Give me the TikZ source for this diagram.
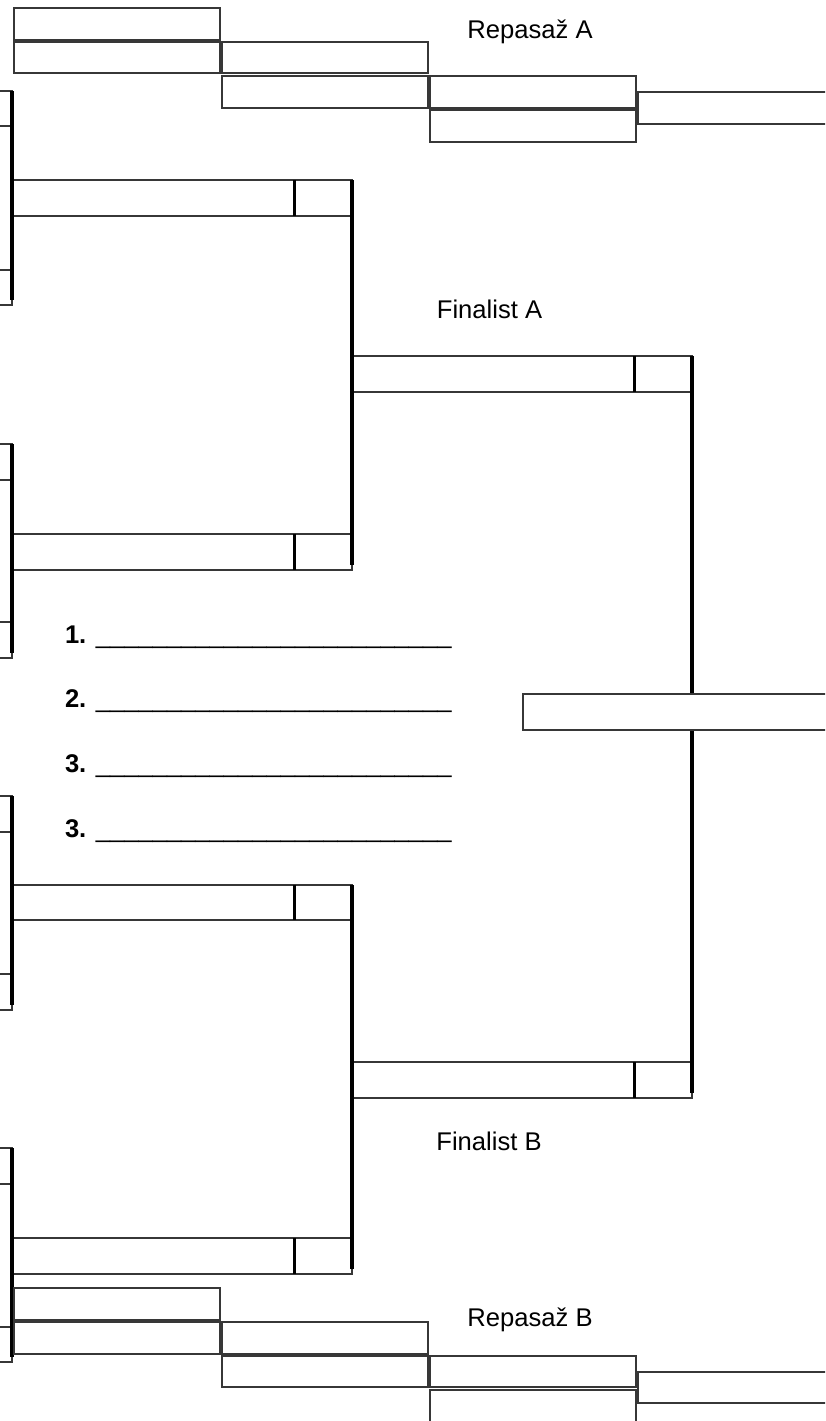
\documentclass[tikz,border=0pt]{standalone}
\usepackage{fontspec}
\setmainfont{Liberation Sans}
\definecolor{linegray}{RGB}{55,55,55}
\newcommand\bx[5]{\node[boxst, minimum width={(#4-#2)*1pt}, minimum height={(#5-#3)*1pt}] (#1) at (#2,#3) {};}
\begin{document}
\begin{tikzpicture}[x=1pt,y=-1pt,
  boxst/.style={draw=linegray, line width=1.2pt, fill=white, inner sep=0pt, outer sep=0pt, anchor=north west},
  heavy/.style={line width=3.4pt, black},
  divider/.style={line width=3pt, black},
  lbl/.style={inner sep=0pt, outer sep=0pt, anchor=base, font=\fontsize{25.6}{30}\selectfont},
  rank/.style={inner sep=0pt, outer sep=0pt, anchor=base west, font=\fontsize{25.6}{30}\selectfont}
]
\useasboundingbox (0,0) rectangle (825,1421);
\clip (0,0) rectangle (825,1421);

% left feeder boxes (cut off at the page edge)
\bx{f1}{-30}{91}{12}{126}
\bx{f2}{-30}{270}{12}{305}
\bx{f3}{-30}{444}{12}{480}
\bx{f4}{-30}{622}{12}{658}
\bx{f5}{-30}{796}{12}{832}
\bx{f6}{-30}{974}{12}{1010}
\bx{f7}{-30}{1148}{12}{1184}
\bx{f8}{-30}{1327}{12}{1362}

% quarter-final boxes
\bx{qa}{12}{180}{294}{216}  \bx{qas}{294}{180}{352}{216}
\bx{qb}{12}{534}{294}{570}  \bx{qbs}{294}{534}{352}{570}
\bx{qc}{12}{885}{294}{920}  \bx{qcs}{294}{885}{352}{920}
\bx{qd}{12}{1238}{294}{1274} \bx{qds}{294}{1238}{352}{1274}

% semi-final boxes
\bx{sa}{352}{356}{634}{392}  \bx{sas}{634}{356}{692}{392}
\bx{sb}{352}{1062}{634}{1098} \bx{sbs}{634}{1062}{692}{1098}

% score dividers
\foreach \n in {qas,qbs,qcs,qds,sas,sbs}
  \draw[divider] (\n.north west) -- (\n.south west);

% bracket connectors
\draw[heavy] (f1.north east) -- ([yshift=5pt]f2.south east);
\draw[heavy] (f3.north east) -- ([yshift=5pt]f4.south east);
\draw[heavy] (f5.north east) -- ([yshift=5pt]f6.south east);
\draw[heavy] (f7.north east) -- ([yshift=5pt]f8.south east);
\draw[heavy] (qas.north east) -- ([yshift=5pt]qbs.south east);
\draw[heavy] (qcs.north east) -- ([yshift=5pt]qds.south east);
\draw[heavy] (sas.north east) -- ([yshift=5pt]sbs.south east);

% final box
\bx{fin}{523}{694}{840}{730}

% repechage A
\bx{ra1}{14}{8}{220}{40}
\bx{ra2}{14}{42}{220}{73}
\bx{ra3}{222}{42}{428}{73}
\bx{ra4}{222}{76}{428}{108}
\bx{ra5}{430}{76}{636}{108}
\bx{ra6}{430}{110}{636}{142}
\bx{ra7}{638}{92}{840}{124}

% repechage B
\bx{rb1}{14}{1288}{220}{1320}
\bx{rb2}{14}{1322}{220}{1354}
\bx{rb3}{222}{1322}{428}{1354}
\bx{rb4}{222}{1356}{428}{1387}
\bx{rb5}{430}{1356}{636}{1387}
\bx{rb6}{430}{1390}{636}{1440}
\bx{rb7}{638}{1372}{840}{1403}

% labels
\node[lbl] (lra) at (530,39) {Repasaž A};
\node[lbl] (lfa) at (489.5,318) {Finalist A};
\node[lbl] (lfb) at (489,1150) {Finalist B};
\node[lbl] (lrb) at (530,1326) {Repasaž B};

% ranking lines
\node[rank] (r1) at (65,643) {\textbf{1.} \_\_\_\_\_\_\_\_\_\_\_\_\_\_\_\_\_\_\_\_\_\_\_\_\_};
\node[rank] (r2) at (65,707) {\textbf{2.} \_\_\_\_\_\_\_\_\_\_\_\_\_\_\_\_\_\_\_\_\_\_\_\_\_};
\node[rank] (r3) at (65,772) {\textbf{3.} \_\_\_\_\_\_\_\_\_\_\_\_\_\_\_\_\_\_\_\_\_\_\_\_\_};
\node[rank] (r4) at (65,837) {\textbf{3.} \_\_\_\_\_\_\_\_\_\_\_\_\_\_\_\_\_\_\_\_\_\_\_\_\_};
\end{tikzpicture}
\end{document}
